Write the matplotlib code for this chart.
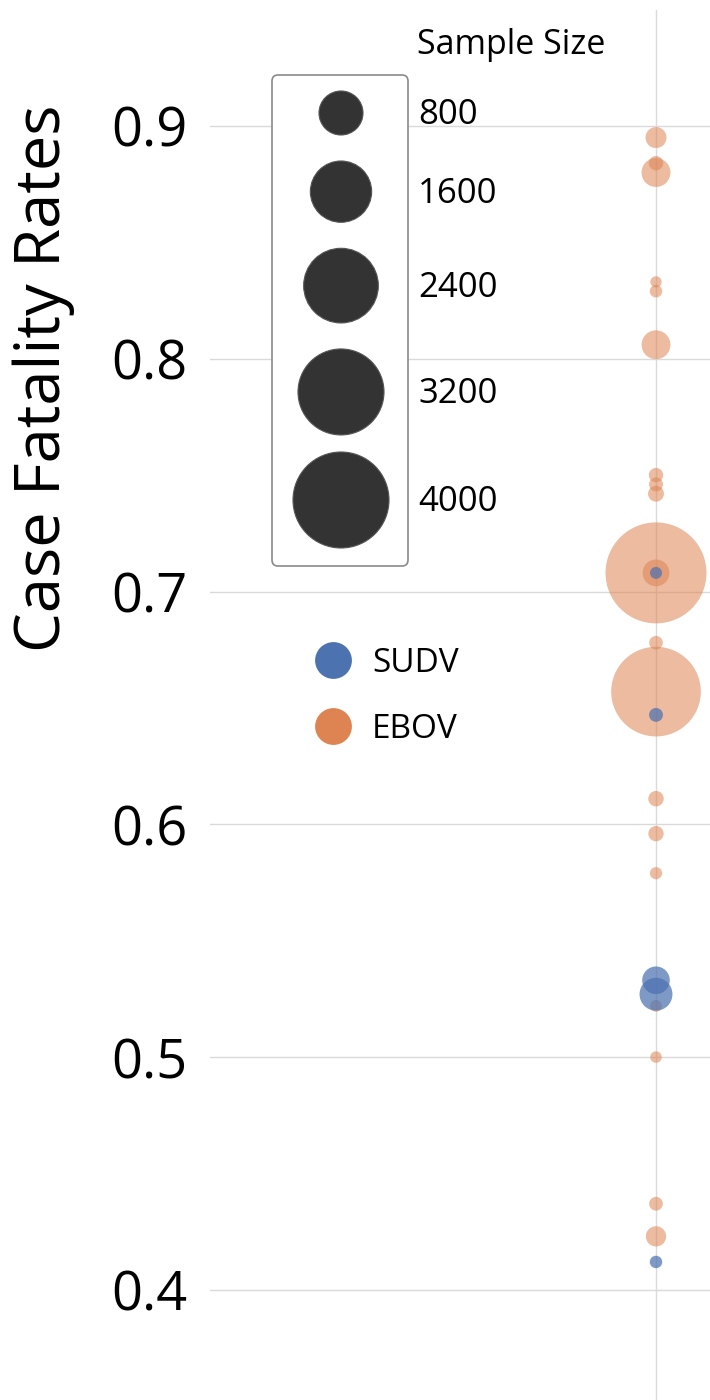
import numpy as np
import matplotlib
matplotlib.use('Agg')
import matplotlib.pyplot as plt
from matplotlib.lines import Line2D
from matplotlib.patches import FancyBboxPatch

plt.rcParams['font.family'] = ['Open Sans', 'DejaVu Sans']

# case fatality rate and number of cases, one entry per outbreak
ebov_cfr = [0.895, 0.884, 0.880, 0.833, 0.829, 0.806, 0.750, 0.746, 0.742, 0.708,
            0.708, 0.678, 0.657, 0.611, 0.596, 0.579, 0.522, 0.500, 0.437, 0.423]
ebov_n = [143, 40, 318, 5, 18, 315, 40, 35, 60, 4430,
          264, 31, 3481, 54, 52, 15, 10, 8, 32, 130]
sudv_cfr = [0.708, 0.647, 0.533, 0.527, 0.412]
sudv_n = [12, 34, 284, 425, 17]

legend_sizes = [800, 1600, 2400, 3200, 4000]
species = ['SUDV', 'EBOV']
yticks = [0.4, 0.5, 0.6, 0.7, 0.8, 0.9]

BLUE = '#4C72B0'
ORANGE = '#DD8452'
DPI = 100
W, H = 710, 1400


def diam_px(n):
    # marker area grows linearly with the sample size
    return np.sqrt(116 + 2.275 * np.asarray(n, dtype=float))


def marker_area(n):
    return (diam_px(n) * 72 / DPI) ** 2


fig = plt.figure(figsize=(W / DPI, H / DPI), dpi=DPI)
ax = fig.add_axes([210 / W, 0, 500 / W, 1390 / H])

ax.scatter(np.zeros(len(ebov_cfr)), ebov_cfr, s=marker_area(ebov_n), color=ORANGE,
           alpha=0.55, linewidths=0, zorder=3)
ax.scatter(np.zeros(len(sudv_cfr)), sudv_cfr, s=marker_area(sudv_n), color=BLUE,
           alpha=0.72, linewidths=0, zorder=4)

ax.set_xlim(-0.892, 0.108)
ax.set_ylim(0.3527, 0.9498)
ax.set_yticks(yticks)
ax.set_yticklabels([f'{t:.1f}' for t in yticks], fontsize=39)
ax.set_xticks([0])
ax.set_xticklabels([''])
ax.tick_params(length=0, pad=16)
ax.grid(True, color='#dadada', lw=1)
ax.set_axisbelow(True)
for sp in ax.spines.values():
    sp.set_visible(False)

fig.text(44 / W, 1 - 378 / H, 'Case Fatality Rates', rotation=90,
         ha='center', va='center', fontsize=45.5)

# size legend, drawn on an overlay in pixel units
lx = fig.add_axes([0, 0, 1, 1])
lx.set_xlim(0, W)
lx.set_ylim(H, 0)
lx.axis('off')
lx.add_patch(FancyBboxPatch((272, 75), 136, 491, boxstyle='round,pad=0,rounding_size=6',
                            fc='white', ec='#8a8a8a', lw=1.2, zorder=1))
d = diam_px(legend_sizes)
centers = 113 + np.concatenate([[0], np.cumsum((d[:-1] + d[1:]) / 2 + 26)])
centers[-1] = min(centers[-1], 500)
lx.scatter(np.full(len(legend_sizes), 341), centers, s=marker_area(legend_sizes),
           color='#333333', edgecolors='#555555', linewidths=0.8, zorder=3)
for c, n in zip(centers, legend_sizes):
    lx.text(418, c + 2, str(n), fontsize=25, va='center', ha='left')
lx.text(417, 45, 'Sample Size', fontsize=24.5, va='center', ha='left')

handles = [Line2D([], [], ls='', marker='o', ms=26.5, color=c, mec='none')
           for c in (BLUE, ORANGE)]
fig.legend(handles, species, loc='upper left', bbox_to_anchor=(313 / W, 1 - 647 / H),
           frameon=False, fontsize=24, handlelength=1.2, handletextpad=0.57,
           labelspacing=0.98, borderpad=0, borderaxespad=0)

fig.savefig('out.png', dpi=DPI)
